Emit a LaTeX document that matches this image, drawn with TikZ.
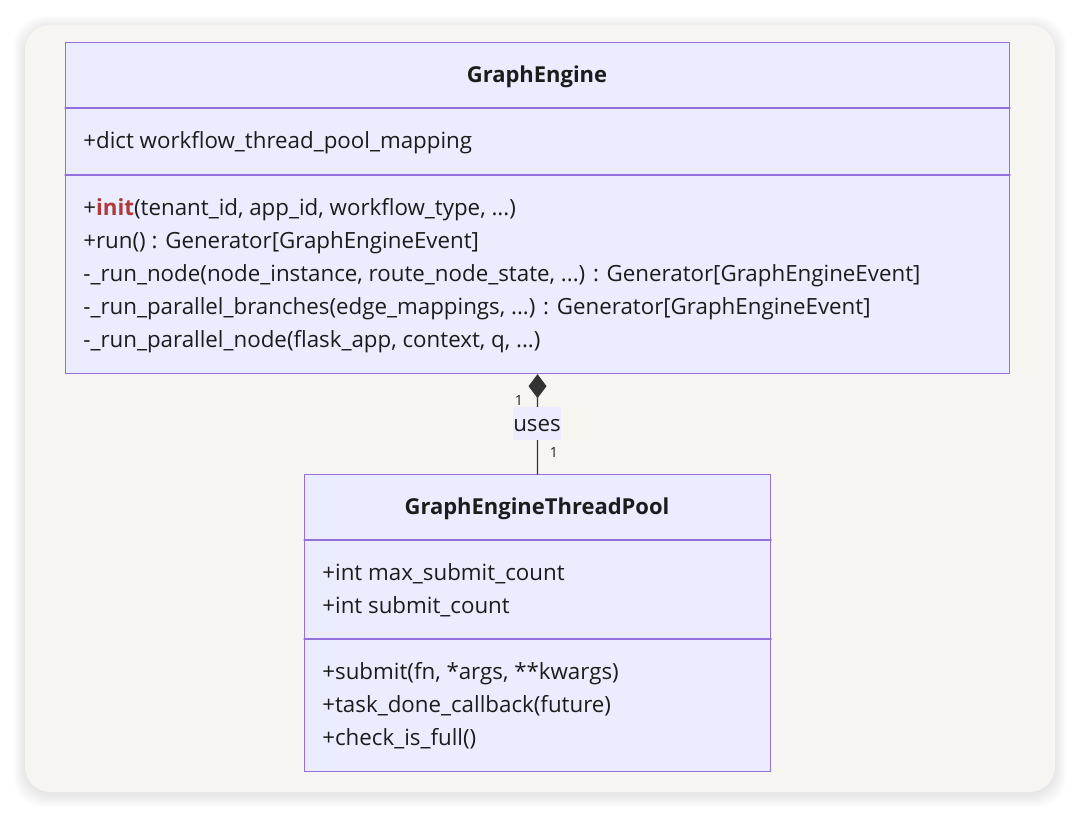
\documentclass[tikz,border=0pt]{standalone}
\usepackage{fontspec}
\setmainfont{Open Sans}
\usetikzlibrary{arrows.meta,positioning}
\definecolor{panel}{HTML}{F6F5F2}
\definecolor{classfill}{HTML}{ECECFF}
\definecolor{classline}{HTML}{9370DB}
\definecolor{ink}{HTML}{1C1C1C}
\definecolor{initred}{HTML}{B03A3A}
\definecolor{edge}{HTML}{333333}
\tikzset{
  ClassBox/.style={
    draw=classline, fill=classfill, line width=0.7pt,
    anchor=north west, inner sep=0pt
  },
  Member/.style={
    anchor=west, inner sep=0pt, text=ink,
    font=\fontsize{12.7}{14}\selectfont,
    text height=0.68em, text depth=0.32em, yshift=-0.09cm
  },
  Title/.style={Member, anchor=center, font=\fontsize{12.5}{14}\selectfont\bfseries},
  Mult/.style={inner sep=0pt, text=ink, font=\fontsize{8}{9}\selectfont}
}
\newcommand{\us}{\_}

\begin{document}
\begin{tikzpicture}[x=0.02cm, y=-0.02cm, line cap=round, line join=round]
  \useasboundingbox (0,0) rectangle (1080,817);

  % soft shadow and panel
  \foreach \k in {1,...,12}
    \fill[black, opacity=0.007, rounded corners=0.6cm]
      (25-\k,25-\k+3) rectangle (1055+\k,792+\k+3);
  \fill[panel, rounded corners=0.5cm] (25,25) rectangle (1055,792);

  % class boxes
  \node[ClassBox, minimum width=18.88cm, minimum height=6.62cm] (ge) at (65,42) {};
  \node[ClassBox, minimum width=9.32cm, minimum height=5.94cm] (pool) at (304,474) {};
  \draw[classline, line width=0.7pt] (ge.west |- 0,108) -- (ge.east |- 0,108);
  \draw[classline, line width=0.7pt] (ge.west |- 0,175) -- (ge.east |- 0,175);
  \draw[classline, line width=0.7pt] (pool.west |- 0,540) -- (pool.east |- 0,540);
  \draw[classline, line width=0.7pt] (pool.west |- 0,639) -- (pool.east |- 0,639);

  % GraphEngine
  \node[Title] (geTitle) at (537,75) {GraphEngine};
  \node[Member] (geAttr) at (83,141) {+dict workflow\us thread\us pool\us mapping};
  \node[Member] (geInit) at (83,208)
    {+{\color{initred}\bfseries init}(tenant\us id, app\us id, workflow\us type, ...)};
  \node[Member] (geRun) at (83,241) {+run() : Generator[GraphEngineEvent]};
  \node[Member] (geNode) at (83,274)
    {-\us run\us node(node\us instance, route\us node\us state, ...) : Generator[GraphEngineEvent]};
  \node[Member] (geBranch) at (83,307)
    {-\us run\us parallel\us branches(edge\us mappings, ...) : Generator[GraphEngineEvent]};
  \node[Member] (gePar) at (83,340) {-\us run\us parallel\us node(flask\us app, context, q, ...)};

  % GraphEngineThreadPool
  \node[Title] (poolTitle) at (537,507) {GraphEngineThreadPool};
  \node[Member] (poolMax) at (322,573) {+int max\us submit\us count};
  \node[Member] (poolCount) at (322,606) {+int submit\us count};
  \node[Member] (poolSubmit) at (322,672) {+submit(fn, *args, **kwargs)};
  \node[Member] (poolDone) at (322,705) {+task\us done\us callback(future)};
  \node[Member] (poolFull) at (322,738) {+check\us is\us full()};

  % composition
  \draw[edge, line width=0.7pt, -{Diamond[width=0.36cm, length=0.48cm, fill=edge]}]
    (pool.north) -- (ge.south);
  \node[fill=classfill, minimum width=0.98cm, minimum height=0.66cm, inner sep=0pt]
    (usesBox) at (537,424) {};
  \node[Member, anchor=center] (uses) at (usesBox.center) {uses};
  \node[Mult] (multGe) at (519,400) {1};
  \node[Mult] (multPool) at (554,452) {1};
\end{tikzpicture}
\end{document}
